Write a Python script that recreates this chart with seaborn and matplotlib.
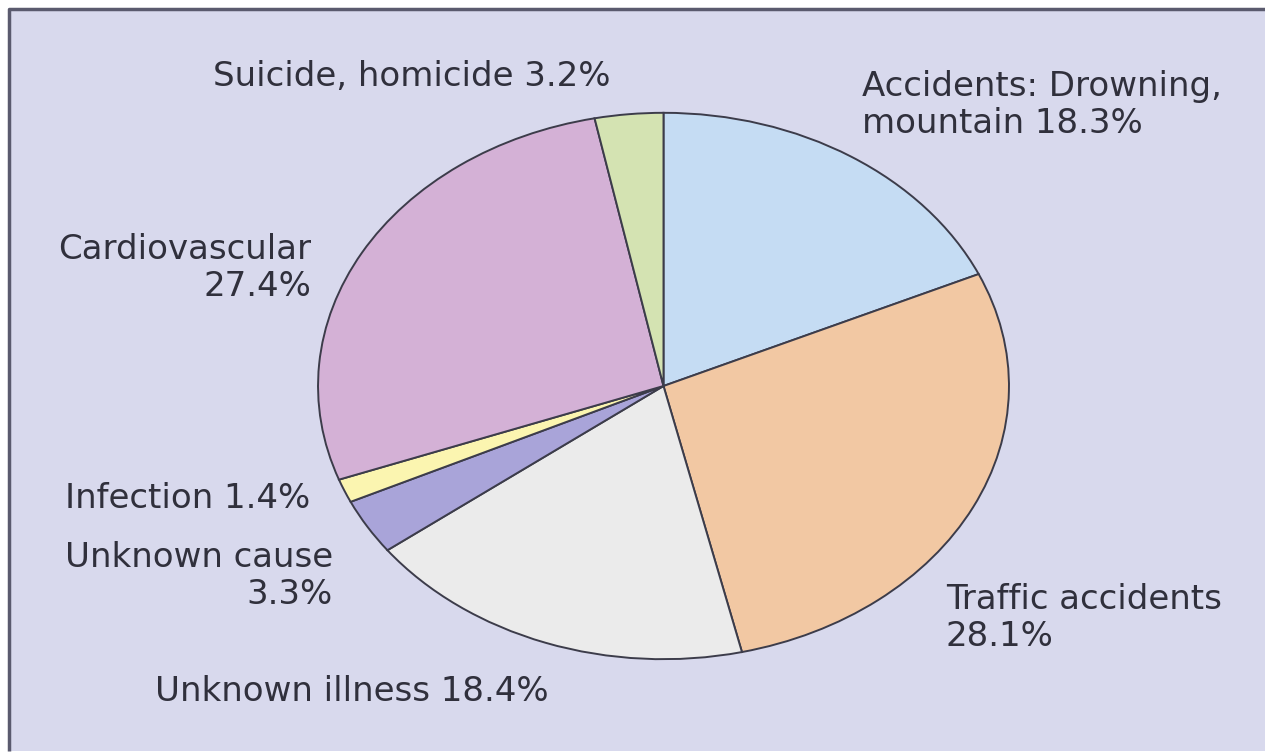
import matplotlib
matplotlib.use("Agg")
import matplotlib.pyplot as plt
import seaborn as sns
from matplotlib.patches import Rectangle

# slices, clockwise from 12 o'clock
causes = ["Accidents: Drowning,\nmountain", "Traffic accidents", "Unknown illness",
          "Unknown cause", "Infection", "Cardiovascular", "Suicide, homicide"]
shares = [18.3, 28.1, 18.4, 3.3, 1.4, 27.4, 3.2]
slice_colors = ["#c5dcf3", "#f2c8a3", "#ebebeb", "#a9a4d9", "#fbf5b0", "#d4b1d6", "#d4e3b2"]

# label text: name + share, broken into lines as in the source figure
label_text = [
    f"Accidents: Drowning,\nmountain {shares[0]}%",
    f"Traffic accidents\n{shares[1]}%",
    f"Unknown illness {shares[2]}%",
    f"Unknown cause\n{shares[3]}%",
    f"Infection {shares[4]}%",
    f"Cardiovascular\n{shares[5]}%",
    f"Suicide, homicide {shares[6]}%",
]
# (x px, baseline px of first line, ha)
label_pos = [(862, 96, "left"), (946, 609, "left"), (155, 701, "left"),
             (333, 567, "right"), (310, 508, "right"), (311, 259, "right"),
             (213, 86, "left")]
line_step = 37

sns.set_style("white")
plt.rcParams["font.family"] = ["DejaVu Sans"]

W, H = 1265, 753
fig = plt.figure(figsize=(W / 100, H / 100), dpi=100, facecolor="white")

# lavender panel with dark frame on top/left
bg = fig.add_axes([0, 0, 1, 1])
bg.set_xlim(0, W)
bg.set_ylim(H, 0)
bg.axis("off")
bg.add_patch(Rectangle((9, 9), W, H - 11, facecolor="#d8d9ed", edgecolor="none"))
bg.plot([9, 9, W], [H - 2, 9, 9], color="#5a5a6e", lw=2.5, solid_capstyle="butt")

for txt, (x, y, ha) in zip(label_text, label_pos):
    for i, line in enumerate(txt.split("\n")):
        bg.text(x, y + i * line_step, line, ha=ha, va="baseline",
                fontsize=24.5, color="#30303c")

# pie drawn in an axes of its own, stretched into an ellipse
cx, cy, rx, ry = 663.5, 386, 346.5, 274
ax = fig.add_axes([(cx - rx) / W, (H - cy - ry) / H, 2 * rx / W, 2 * ry / H])
ax.pie(shares, colors=slice_colors, startangle=90, counterclock=False,
       wedgeprops=dict(edgecolor="#3c3c4a", linewidth=1.4))
ax.set_aspect("auto")
ax.set_xlim(-1.003, 1.003)
ax.set_ylim(-1.003, 1.003)
ax.axis("off")

fig.savefig("out.png", dpi=100, facecolor="white")
